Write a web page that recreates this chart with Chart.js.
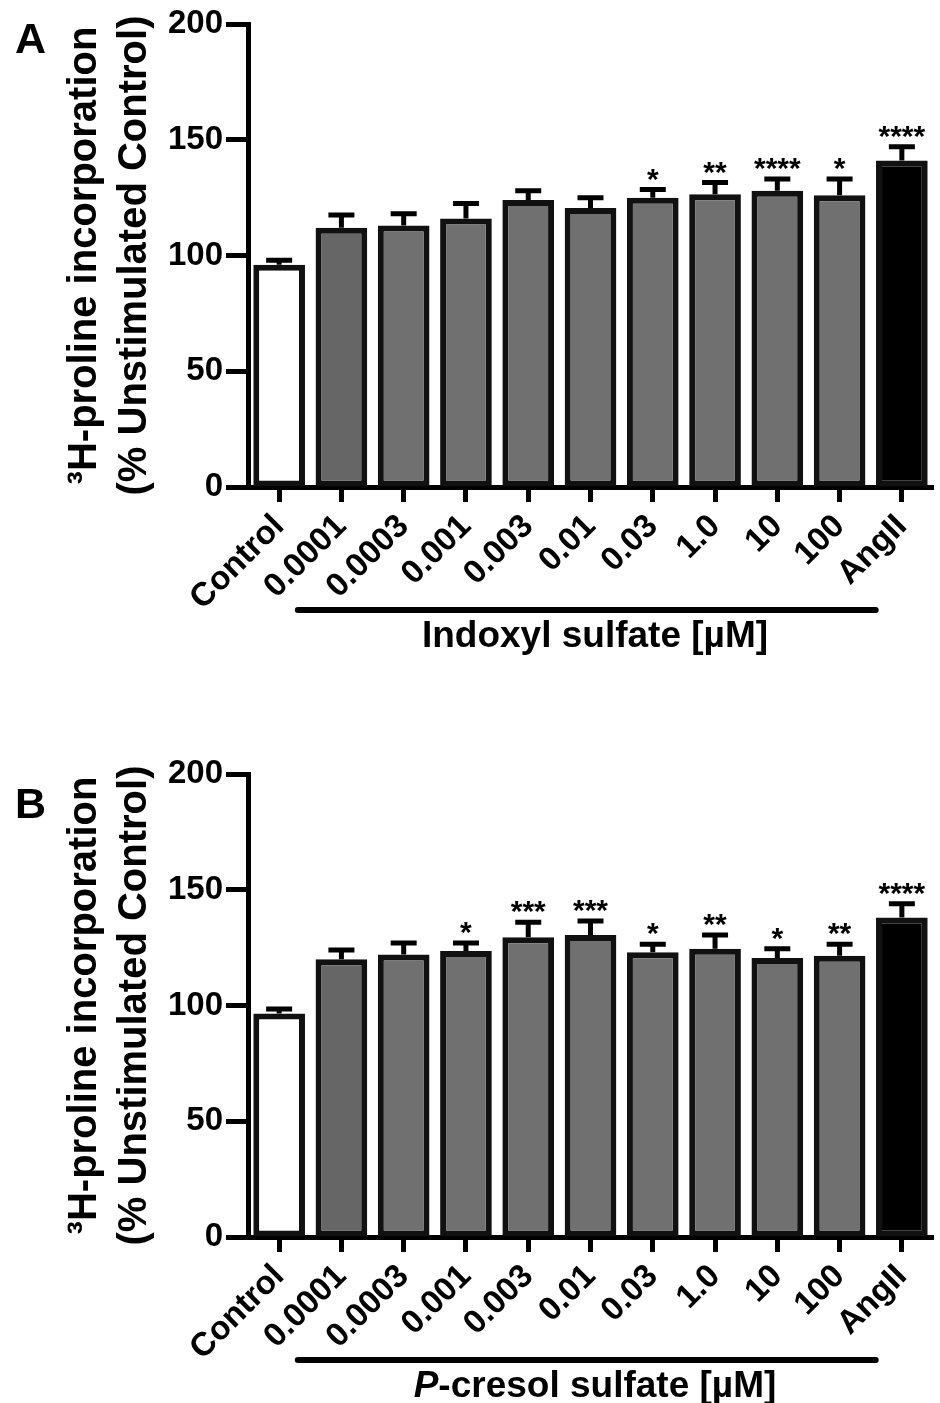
<!DOCTYPE html>
<html lang="en">

<head>
    <meta charset="UTF-8">
    <title>3H-proline incorporation</title>
    <script src="https://cdn.jsdelivr.net/npm/chart.js"></script>
    <style>
        body {
            margin: 0;
            background: #fff;
            overflow: hidden;
            width: 940px;
            height: 1403px;
            position: relative;
        }

        canvas {
            position: absolute;
            left: 0;
        }

        #panelA {
            top: 0;
        }

        #panelB {
            top: 750px;
        }
    </style>
</head>

<body>

    <canvas id="panelA" width="940" height="700"></canvas>
    <canvas id="panelB" width="940" height="700"></canvas>

    <script>
        // categories shared by both panels
        const categorias = ['Control', '0.0001', '0.0003', '0.001', '0.003', '0.01', '0.03', '1.0', '10', '100', 'AngII'];
        const ticksY = [0, 50, 100, 150, 200];

        // panel A - indoxyl sulfate
        const mediasA = [96, 112, 113, 116, 124, 120.5, 125, 126.5, 128, 126, 141];
        const errA = [2, 5.5, 5, 6.5, 4, 4.5, 3.5, 5, 5, 7, 6];
        const signifA = ['', '', '', '', '', '', '*', '**', '****', '*', '****'];

        // panel B - p-cresol sulfate
        const mediasB = [96.5, 120, 122, 123.5, 129.5, 130.5, 123, 124.5, 120.5, 121.5, 138];
        const errB = [2, 4, 5, 3.5, 6.5, 6, 3.5, 6, 4, 5, 6];
        const signifB = ['', '', '', '*', '***', '***', '*', '**', '*', '**', '****'];

        const FUENTE = '"Liberation Sans", Arial, sans-serif';

        function colorBarra(i) {
            if (i === 0) return '#ffffff';
            if (i === categorias.length - 1) return '#000000';
            return i === 1 ? '#666666' : '#707070';
        }

        // error bars, stars, bracket, group title and panel letter
        function pluginExtras(errores, estrellas, letra, letraY, titulo) {
            return {
                id: 'extras' + letra,
                afterDatasetsDraw(chart) {
                    const c = chart.ctx;
                    const y = chart.scales.y;
                    const x = chart.scales.x;
                    const meta = chart.getDatasetMeta(0);
                    const datos = chart.data.datasets[0].data;
                    c.save();
                    c.strokeStyle = '#000';
                    c.fillStyle = '#000';
                    c.lineWidth = 5;
                    c.font = 'bold 30px ' + FUENTE;
                    const bajo = c.measureText('*').actualBoundingBoxDescent;
                    meta.data.forEach((barra, i) => {
                        const yBase = y.getPixelForValue(datos[i]);
                        const yTop = y.getPixelForValue(datos[i] + errores[i]);
                        c.beginPath();
                        c.moveTo(barra.x, yBase);
                        c.lineTo(barra.x, yTop);
                        c.moveTo(barra.x - 13, yTop);
                        c.lineTo(barra.x + 13, yTop);
                        c.stroke();
                        if (estrellas[i]) {
                            c.textAlign = 'center';
                            c.textBaseline = 'alphabetic';
                            c.fillText(estrellas[i], barra.x, yTop - 9 - bajo);
                        }
                    });

                    // bracket under the concentrations
                    const paso = x.getPixelForValue(1) - x.getPixelForValue(0);
                    const x1 = x.getPixelForValue(1) - 0.7 * paso;
                    const x2 = x.getPixelForValue(9) + 0.58 * paso;
                    c.lineCap = 'round';
                    c.lineWidth = 6;
                    c.beginPath();
                    c.moveTo(x1, 610);
                    c.lineTo(x2, 610);
                    c.stroke();

                    // group title (with optional italic prefix)
                    const centro = 595;
                    c.textBaseline = 'alphabetic';
                    c.textAlign = 'left';
                    const fNormal = 'bold 37px ' + FUENTE;
                    const fItalic = 'italic bold 37px ' + FUENTE;
                    c.font = fItalic;
                    const w1 = titulo[0] ? c.measureText(titulo[0]).width : 0;
                    c.font = fNormal;
                    const w2 = c.measureText(titulo[1]).width;
                    let xt = centro - (w1 + w2) / 2;
                    if (titulo[0]) {
                        c.font = fItalic;
                        c.fillText(titulo[0], xt, 647);
                        xt += w1;
                    }
                    c.font = fNormal;
                    c.fillText(titulo[1], xt, 647);

                    // panel letter
                    c.font = 'bold 43px ' + FUENTE;
                    c.fillText(letra, 15, letraY);
                    c.restore();
                }
            };
        }

        function crearPanel(id, medias, errores, estrellas, letra, letraY, titulo) {
            const ctx = document.getElementById(id).getContext('2d');
            return new Chart(ctx, {
                type: 'bar',
                data: {
                    labels: categorias,
                    datasets: [{
                        data: medias,
                        backgroundColor: categorias.map((_, i) => colorBarra(i)),
                        borderColor: '#111111',
                        borderWidth: 6,
                        borderSkipped: false,
                        barPercentage: 0.83,
                        categoryPercentage: 1
                    }]
                },
                options: {
                    responsive: false,
                    animation: false,
                    devicePixelRatio: 1,
                    layout: { padding: { top: 24, right: 7, left: 0, bottom: 0 } },
                    plugins: {
                        legend: { display: false },
                        tooltip: { enabled: false }
                    },
                    scales: {
                        x: {
                            afterFit: (s) => { s.height = 213; },
                            border: { color: '#000', width: 5 },
                            grid: {
                                offset: false,
                                drawOnChartArea: false,
                                tickLength: 15,
                                tickWidth: 5,
                                tickColor: '#000'
                            },
                            ticks: {
                                autoSkip: false,
                                minRotation: 45,
                                maxRotation: 45,
                                padding: 5,
                                color: '#000',
                                font: { family: FUENTE, size: 33, weight: 'bold' }
                            }
                        },
                        y: {
                            min: 0,
                            max: 200,
                            afterFit: (s) => { s.width = 248; },
                            afterBuildTicks: (s) => { s.ticks = ticksY.map(v => ({ value: v })); },
                            border: { color: '#000', width: 5 },
                            grid: {
                                drawOnChartArea: false,
                                tickLength: 22,
                                tickWidth: 5,
                                tickColor: '#000'
                            },
                            ticks: {
                                padding: 3,
                                color: '#000',
                                font: { family: FUENTE, size: 33, weight: 'bold' }
                            },
                            title: {
                                display: true,
                                text: ['³H-proline incorporation', '(% Unstimulated Control)'],
                                color: '#000',
                                padding: { top: 60 },
                                font: { family: FUENTE, size: 40, weight: 'bold', lineHeight: 1.25 }
                            }
                        }
                    }
                },
                plugins: [pluginExtras(errores, estrellas, letra, letraY, titulo)]
            });
        }

        crearPanel('panelA', mediasA, errA, signifA, 'A', 53, ['', 'Indoxyl sulfate [µM]']);
        crearPanel('panelB', mediasB, errB, signifB, 'B', 68, ['P', '-cresol sulfate [µM]']);
    </script>

</body>

</html>
